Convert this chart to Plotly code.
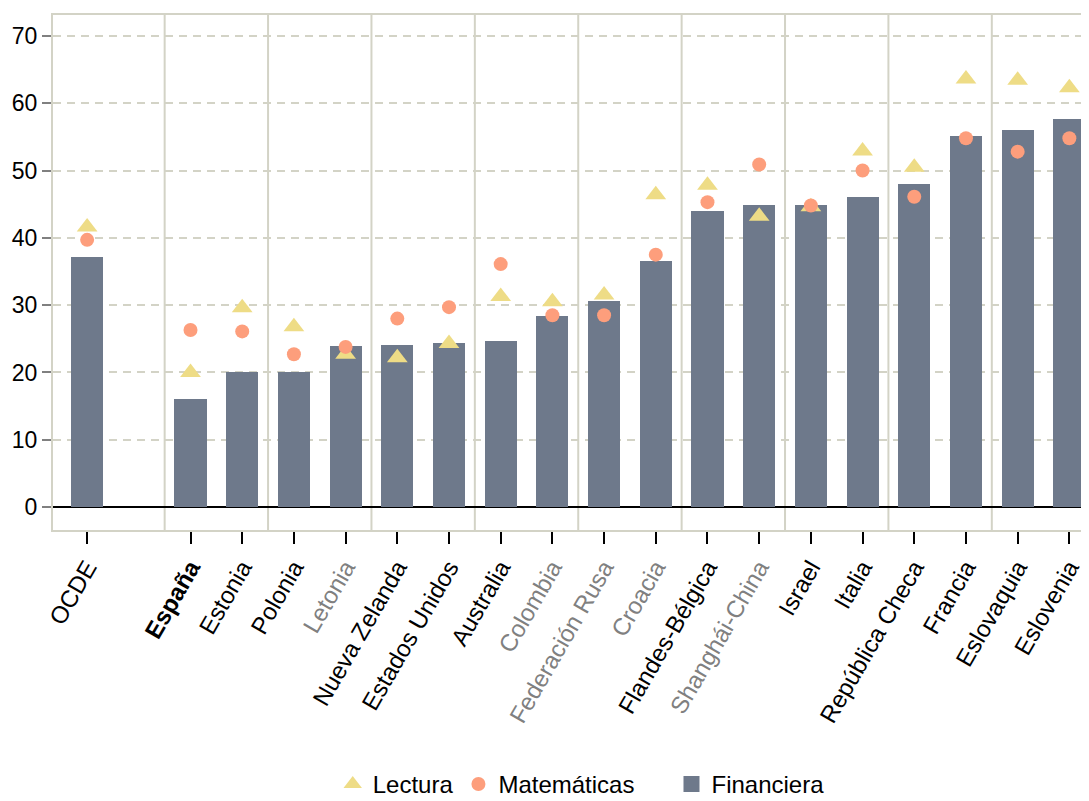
import plotly.graph_objects as go

# ---- data ----
categories = ["OCDE", "", "España", "Estonia", "Polonia", "Letonia", "Nueva Zelanda",
              "Estados Unidos", "Australia", "Colombia", "Federación Rusa", "Croacia",
              "Flandes-Bélgica", "Shanghái-China", "Israel", "Italia", "República Checa",
              "Francia", "Eslovaquia", "Eslovenia"]
financiera = [37.1, None, 16.1, 20.0, 20.0, 24.0, 24.1, 24.4, 24.7, 28.4, 30.6, 36.5,
              44.0, 44.9, 44.9, 46.0, 48.0, 55.1, 56.0, 57.7]
lectura = [41.6, None, 20.0, 29.6, 26.8, 22.7, 22.2, 24.3, 31.3, 30.5, 31.5, 46.4,
           47.8, 43.2, 44.6, 52.9, 50.5, 63.6, 63.4, 62.3]
matematicas = [39.7, None, 26.3, 26.1, 22.7, 23.8, 28.0, 29.7, 36.1, 28.5, 28.5, 37.5,
               45.3, 50.9, 44.8, 50.0, 46.1, 54.8, 52.8, 54.8]
gray_labels = ["Letonia", "Colombia", "Federación Rusa", "Croacia", "Shanghái-China"]
bold_labels = ["España"]
y_ticks = [0, 10, 20, 30, 40, 50, 60, 70]

# ---- styles ----
FONT = "Liberation Sans, Arial, sans-serif"
GRID = "#D3D3C6"
BAR = "#6E798B"
TRI = "#EEDC86"
DOT = "#FD9E7C"

x = list(range(len(categories)))
tickvals = [i for i, c in enumerate(categories) if c]


def fmt(c):
    if c in bold_labels:
        return f"<b>{c}</b>"
    if c in gray_labels:
        return f'<span style="color:#808080">{c}</span>'
    return c


ticktext = [fmt(categories[i]) for i in tickvals]
separators = [i + 0.5 for i in range(1, len(categories) - 2, 2)]

fig = go.Figure()
fig.add_trace(go.Scatter(
    x=x, y=lectura, mode="markers", name="Lectura",
    marker=dict(symbol="triangle-up", size=18, color=TRI),
    legend="legend",
))
fig.add_trace(go.Scatter(
    x=x, y=matematicas, mode="markers", name="Matemáticas",
    marker=dict(symbol="circle", size=14, color=DOT),
    legend="legend",
))
fig.add_trace(go.Bar(
    x=x, y=financiera, name="Financiera", width=0.62,
    marker=dict(color=BAR, line=dict(width=0)),
    showlegend=False,
))
# legend-only entry with a larger square key for the bars
fig.add_trace(go.Scatter(
    x=[None], y=[None], mode="markers", name="Financiera",
    marker=dict(symbol="square", size=16, color=BAR),
    legend="legend2",
))

for s in separators:
    fig.add_shape(type="line", x0=s, x1=s, xref="x", y0=0, y1=1, yref="paper",
                  line=dict(color=GRID, width=2), layer="below")

fig.update_layout(
    width=1081, height=793,
    margin=dict(l=45, r=0, t=7, b=271, autoexpand=False),
    plot_bgcolor="white", paper_bgcolor="white",
    font=dict(family=FONT, size=24, color="black"),
    bargap=0,
    legend=dict(orientation="h", x=0.270, xanchor="left", y=-0.494, yanchor="middle",
                font=dict(size=24, family=FONT, color="black"), bgcolor="rgba(0,0,0,0)"),
    legend2=dict(orientation="h", x=0.597, xanchor="left", y=-0.494, yanchor="middle",
                 font=dict(size=24, family=FONT, color="black"), bgcolor="rgba(0,0,0,0)"),
    xaxis=dict(
        range=[-0.66, 19.38], tickmode="array", tickvals=tickvals, ticktext=ticktext,
        tickangle=-60, ticks="outside", ticklen=12, tickwidth=1.5, tickcolor="black",
        showline=True, linecolor=GRID, linewidth=2, mirror=True,
        showgrid=False, zeroline=False, automargin=False,
        tickfont=dict(family=FONT, size=24, color="black"),
    ),
    yaxis=dict(
        range=[-3.4, 73.1], tickmode="array", tickvals=y_ticks,
        ticks="outside", ticklen=9, tickwidth=2, tickcolor="#808080",
        showline=True, linecolor=GRID, linewidth=2,
        showgrid=True, gridcolor=GRID, gridwidth=2, griddash="8px,6px",
        zeroline=True, zerolinecolor="black", zerolinewidth=2, automargin=False,
        tickfont=dict(family=FONT, size=23, color="black"),
    ),
)

fig.write_html("out.html")
